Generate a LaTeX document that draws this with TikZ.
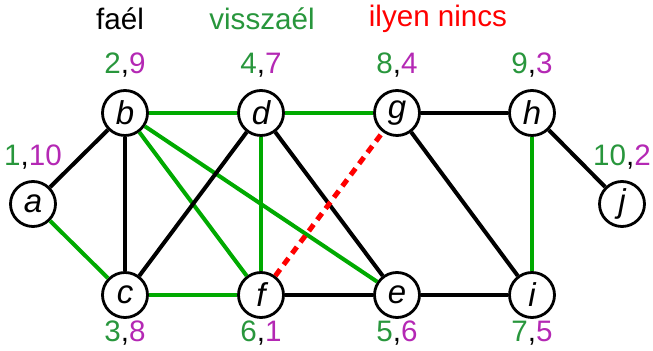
\documentclass[tikz,border=0pt]{standalone}
\usepackage{fontspec}
\setmainfont{Liberation Sans}
\definecolor{treegreen}{RGB}{0,170,0}
\definecolor{numgreen}{RGB}{40,150,60}
\definecolor{numpurple}{RGB}{180,40,180}
\begin{document}
\begin{tikzpicture}[x=0.5pt,y=-0.5pt,
  vtx/.style={circle,draw,line width=1.4pt,fill=white,minimum size=22.5pt,inner sep=0pt,font=\fontsize{16.5}{16.5}\selectfont\itshape},
  lbl/.style={font=\fontsize{14.8}{14.8}\selectfont},
  tree/.style={line width=2pt,black},
  back/.style={line width=2pt,treegreen},
  none/.style={line width=2.5pt,red,dash pattern=on 4pt off 3pt}]
\useasboundingbox (0,0) rectangle (653,351);
% legend
\node[lbl] (lt) at (120,19) {faél};
\node[lbl,text=numgreen] (lb) at (262,19) {visszaél};
\node[lbl,text=red] (ln) at (438,19) {ilyen nincs};
% vertices
\node[vtx] (a) at (33,204) {a};
\node[vtx] (b) at (125,113) {b};
\node[vtx] (c) at (125,295) {c};
\node[vtx] (d) at (261,113) {d};
\node[vtx] (f) at (261,295) {f};
\node[vtx] (g) at (397,113) {g};
\node[vtx] (e) at (397,295) {e};
\node[vtx] (h) at (532,113) {h};
\node[vtx] (i) at (532,295) {i};
\node[vtx] (j) at (622,204) {j};
% edges
\draw[tree] (a) -- (b);
\draw[back] (a) -- (c);
\draw[tree] (b) -- (c);
\draw[back] (b) -- (d);
\draw[back] (b) -- (f);
\draw[back] (b) -- (e);
\draw[tree] (c) -- (d);
\draw[back] (c) -- (f);
\draw[back] (d) -- (g);
\draw[back] (d) -- (f);
\draw[tree] (d) -- (e);
\draw[tree] (f) -- (e);
\draw[tree] (g) -- (h);
\draw[tree] (g) -- (i);
\draw[back] (h) -- (i);
\draw[tree] (h) -- (j);
\draw[tree] (e) -- (i);
\draw[none] (f) -- (g);
% discovery / finishing numbers
\node[lbl] (na) at (33,157) {\textcolor{numgreen}{1},\textcolor{numpurple}{10}};
\node[lbl] (nb) at (125,65) {\textcolor{numgreen}{2},\textcolor{numpurple}{9}};
\node[lbl] (nd) at (261,65) {\textcolor{numgreen}{4},\textcolor{numpurple}{7}};
\node[lbl] (ng) at (397,65) {\textcolor{numgreen}{8},\textcolor{numpurple}{4}};
\node[lbl] (nh) at (532,65) {\textcolor{numgreen}{9},\textcolor{numpurple}{3}};
\node[lbl] (nj) at (622,157) {\textcolor{numgreen}{10},\textcolor{numpurple}{2}};
\node[lbl] (nc) at (125,333) {\textcolor{numgreen}{3},\textcolor{numpurple}{8}};
\node[lbl] (nf) at (261,333) {\textcolor{numgreen}{6},\textcolor{numpurple}{1}};
\node[lbl] (ne) at (397,333) {\textcolor{numgreen}{5},\textcolor{numpurple}{6}};
\node[lbl] (ni) at (532,333) {\textcolor{numgreen}{7},\textcolor{numpurple}{5}};
\end{tikzpicture}
\end{document}
